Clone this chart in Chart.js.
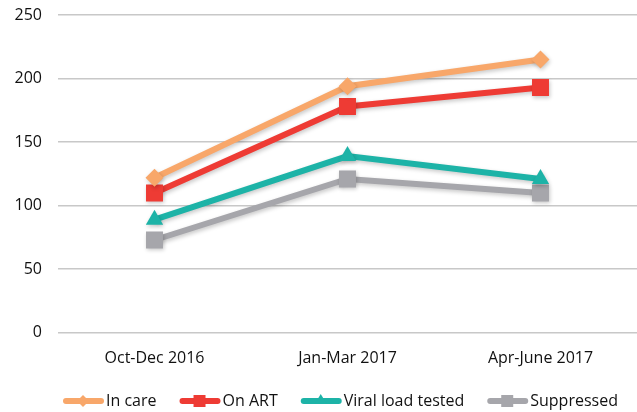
<!DOCTYPE html>
<html>
<head>
<meta charset="utf-8">
<script src="https://cdn.jsdelivr.net/npm/chart.js@4"></script>
<style>
  html, body { margin: 0; padding: 0; background: #fff; overflow: hidden; }
  #wrap { width: 637px; height: 412px; position: relative; }
</style>
</head>
<body>
<div id="wrap"><canvas id="chart"></canvas></div>
<script>
const quarters = ['Oct-Dec 2016', 'Jan-Mar 2017', 'Apr-June 2017'];
const inCare = [122, 194, 215];
const onArt = [110, 178, 193];
const viralLoadTested = [89, 139, 121];
const suppressed = [73, 121, 110];
const yTicks = [0, 50, 100, 150, 200, 250];

const FONT = '"Open Sans", "Liberation Sans", sans-serif';

const series = [
  { label: 'In care', data: inCare, color: '#F8A76A', style: 'rectRot', radius: 9 },
  { label: 'On ART', data: onArt, color: '#EE3B34', style: 'rect', radius: 12 },
  { label: 'Viral load tested', data: viralLoadTested, color: '#1DB3A7', style: 'triangle', radius: 10 },
  { label: 'Suppressed', data: suppressed, color: '#A6A6AB', style: 'rect', radius: 12 }
];

const shadowPlugin = {
  id: 'markerShadow',
  beforeDatasetsDraw(chart) {
    const ctx = chart.ctx;
    ctx.save();
    ctx.shadowColor = 'rgba(0, 0, 0, 0.22)';
    ctx.shadowBlur = 4;
    ctx.shadowOffsetX = 1;
    ctx.shadowOffsetY = 2;
  },
  afterDatasetsDraw(chart) {
    chart.ctx.restore();
  }
};

// legend drawn by hand: line with a marker in the middle, text right after it
const lineLegend = {
  id: 'lineLegend',
  afterDraw(chart) {
    const ctx = chart.ctx;
    const y = 401;
    let x = 63;
    ctx.save();
    ctx.font = '16px ' + FONT;
    ctx.textBaseline = 'middle';
    ctx.textAlign = 'left';
    series.forEach(s => {
      ctx.strokeStyle = s.color;
      ctx.fillStyle = s.color;
      ctx.lineWidth = 6;
      ctx.lineCap = 'round';
      ctx.beginPath();
      ctx.moveTo(x + 3, y);
      ctx.lineTo(x + 38, y);
      ctx.stroke();
      const cx = x + 20;
      ctx.beginPath();
      if (s.style === 'rectRot') {
        ctx.moveTo(cx, y - 6); ctx.lineTo(cx + 6, y); ctx.lineTo(cx, y + 6); ctx.lineTo(cx - 6, y);
      } else if (s.style === 'triangle') {
        ctx.moveTo(cx, y - 7); ctx.lineTo(cx + 6, y + 3); ctx.lineTo(cx - 6, y + 3);
      } else {
        ctx.rect(cx - 6, y - 6, 12, 12);
      }
      ctx.closePath();
      ctx.fill();
      ctx.fillStyle = '#111';
      ctx.fillText(s.label, x + 43, y);
      x += 43 + ctx.measureText(s.label).width + 23;
    });
    ctx.restore();
  }
};

new Chart(document.getElementById('chart'), {
  type: 'line',
  data: {
    labels: quarters,
    datasets: series.map(s => ({
      label: s.label,
      data: s.data,
      borderColor: s.color,
      backgroundColor: s.color,
      borderWidth: 6,
      pointStyle: s.style,
      pointRadius: s.radius,
      pointHoverRadius: s.radius,
      pointBorderWidth: 0,
      pointBackgroundColor: s.color,
      tension: 0,
      fill: false
    }))
  },
  options: {
    responsive: true,
    maintainAspectRatio: false,
    animation: false,
    layout: { autoPadding: false, padding: { left: 14, right: -13, top: 15, bottom: 28 } },
    scales: {
      x: {
        offset: true,
        grid: { display: false, drawTicks: false },
        border: { display: false },
        afterFit: axis => { axis.paddingLeft = 0; axis.paddingRight = 0; },
        ticks: { color: '#111', font: { family: FONT, size: 16 }, padding: 16, maxRotation: 0 }
      },
      y: {
        min: 0,
        max: 250,
        afterBuildTicks: axis => { axis.ticks = yTicks.map(v => ({ value: v })); },
        afterFit: axis => { axis.width = 44; axis.paddingTop = 10; axis.paddingBottom = 0; },
        grid: { color: '#C8C8C8', lineWidth: 1.5, drawTicks: false },
        border: { display: false },
        ticks: { color: '#111', font: { family: FONT, size: 16 }, padding: 16 }
      }
    },
    plugins: {
      tooltip: { enabled: false },
      legend: { display: false }
    }
  },
  plugins: [shadowPlugin, lineLegend]
});
</script>
</body>
</html>
